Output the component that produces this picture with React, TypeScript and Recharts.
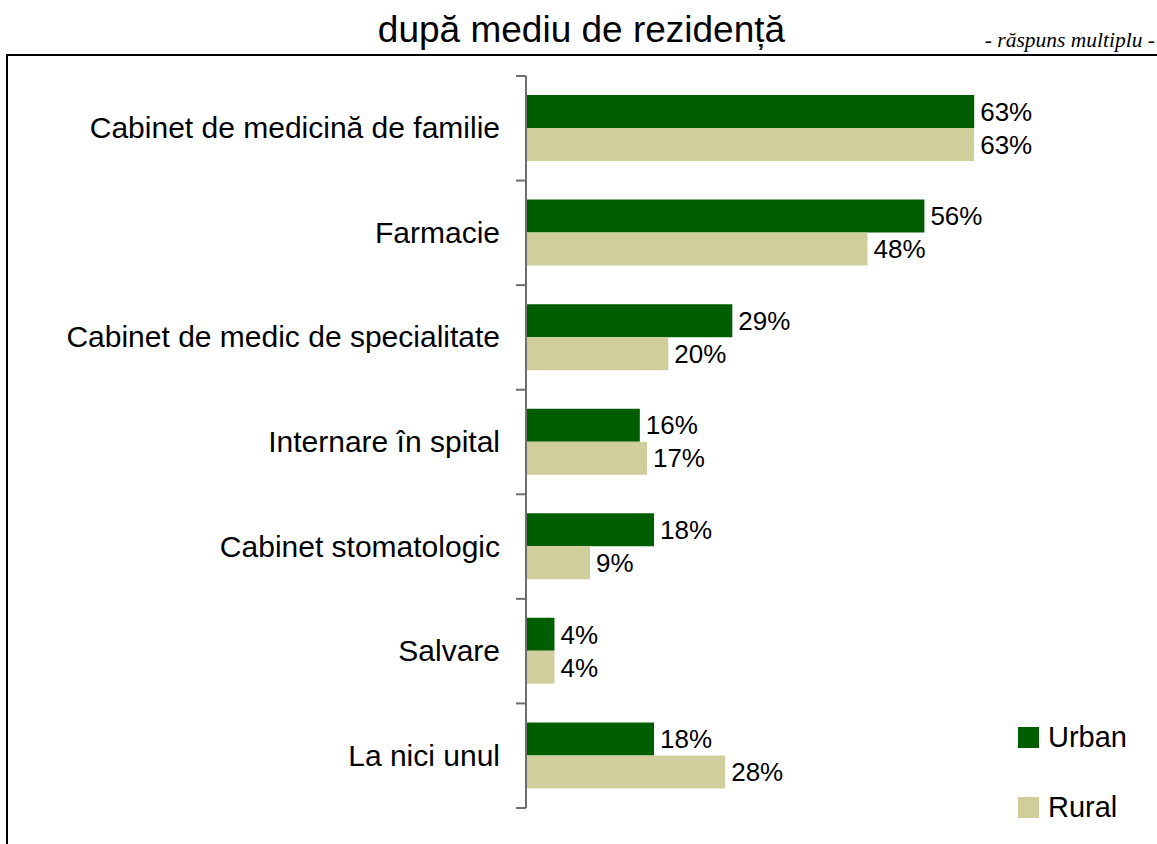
import { BarChart, Bar, XAxis, YAxis, LabelList } from "recharts";

const categories = [
  "Cabinet de medicină de familie",
  "Farmacie",
  "Cabinet de medic de specialitate",
  "Internare în spital",
  "Cabinet stomatologic",
  "Salvare",
  "La nici unul",
];
const urban = [63, 56, 29, 16, 18, 4, 18];
const rural = [63, 48, 20, 17, 9, 4, 28];
const seriesNames = ["Urban", "Rural"];

const URBAN_COLOR = "#005e00";
const RURAL_COLOR = "#d0cf9c";
const FONT = "'Liberation Sans', Arial, sans-serif";

const W = 1157;
const H = 844;
const TOP = 76;
const BOTTOM = 808;
const AXIS_X = 526;
const BAND = (BOTTOM - TOP) / categories.length;

const data = categories.map((name, i) => ({ name, urban: urban[i], rural: rural[i] }));

function CategoryTick(props: any) {
  const { y, payload, index } = props;
  const last = index === categories.length - 1;
  return (
    <g>
      <line x1={AXIS_X - 10} x2={AXIS_X} y1={y - BAND / 2} y2={y - BAND / 2} stroke="#6e6e6e" strokeWidth={2} />
      {last && (
        <line x1={AXIS_X - 10} x2={AXIS_X} y1={y + BAND / 2} y2={y + BAND / 2} stroke="#6e6e6e" strokeWidth={2} />
      )}
      <text x={AXIS_X - 26} y={y} dy={10} textAnchor="end" fontSize={30} fontFamily={FONT} fill="#000">
        {payload.value}
      </text>
    </g>
  );
}

export default function App() {
  return (
    <div style={{ position: "relative", width: W, height: H, background: "#fff", overflow: "hidden" }}>
      <style>{"body{margin:0}"}</style>
      <div
        style={{
          position: "absolute",
          left: 6,
          top: 54,
          width: W,
          height: H,
          border: "2px solid #000",
        }}
      />
      <div
        style={{
          position: "absolute",
          left: 0,
          width: W - 2,
          top: 8,
          textAlign: "center",
          fontFamily: FONT,
          fontSize: 37,
          lineHeight: "44px",
          paddingLeft: 4,
        }}
      >
        după mediu de rezidență
      </div>
      <div
        style={{
          position: "absolute",
          right: 2,
          top: 28,
          fontFamily: "'Liberation Serif', 'Times New Roman', serif",
          fontStyle: "italic",
          fontSize: 21.5,
          lineHeight: "24px",
        }}
      >
        - răspuns multiplu -
      </div>
      <div style={{ position: "absolute", left: 0, top: 0 }}>
        <BarChart
          width={W}
          height={H}
          data={data}
          layout="vertical"
          margin={{ top: TOP, bottom: H - BOTTOM, left: 0, right: 133 }}
          barGap={0}
          barCategoryGap="19%"
        >
          <XAxis type="number" domain={[0, 70]} hide />
          <YAxis
            type="category"
            dataKey="name"
            width={AXIS_X}
            axisLine={{ stroke: "#6e6e6e", strokeWidth: 2 }}
            tickLine={false}
            tick={<CategoryTick />}
            interval={0}
          />
          <Bar dataKey="urban" name={seriesNames[0]} fill={URBAN_COLOR} barSize={33} isAnimationActive={false}>
            <LabelList
              dataKey="urban"
              position="right"
              offset={6}
              formatter={(v: any) => `${v}%`}
              style={{ fontSize: 26, fontFamily: FONT, fill: "#000" }}
            />
          </Bar>
          <Bar dataKey="rural" name={seriesNames[1]} fill={RURAL_COLOR} barSize={33} isAnimationActive={false}>
            <LabelList
              dataKey="rural"
              position="right"
              offset={6}
              formatter={(v: any) => `${v}%`}
              style={{ fontSize: 26, fontFamily: FONT, fill: "#000" }}
            />
          </Bar>
        </BarChart>
      </div>
      {seriesNames.map((name, i) => (
        <div
          key={name}
          style={{
            position: "absolute",
            left: 1018,
            top: 722 + i * 70,
            display: "flex",
            alignItems: "center",
            fontFamily: FONT,
            fontSize: 29,
            lineHeight: "30px",
          }}
        >
          <span
            style={{
              display: "inline-block",
              width: 21,
              height: 21,
              marginRight: 9,
              background: i === 0 ? URBAN_COLOR : RURAL_COLOR,
            }}
          />
          {name}
        </div>
      ))}
    </div>
  );
}
